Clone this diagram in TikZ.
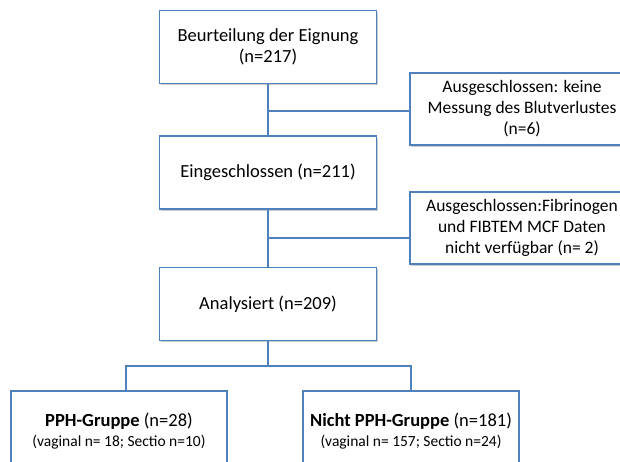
\documentclass[tikz,border=0pt]{standalone}
\usepackage{fontspec}
\setmainfont{Carlito}
\usetikzlibrary{positioning,shadows,calc}
\definecolor{office}{HTML}{4F81BD}
\definecolor{shade}{HTML}{9A9A9A}
\tikzset{
  box/.style={
    draw=office, fill=white, line width=1.3pt,
    align=center, font=\fontsize{18.5}{21.5}\selectfont,
    inner sep=0pt,
    drop shadow={shadow xshift=1.2pt, shadow yshift=-1.6pt, fill=shade, opacity=0.5}
  },
  link/.style={draw=office, line width=1.6pt}
}
\begin{document}
\begin{tikzpicture}[x=1pt, y=-1pt,
        stage/.style={box, minimum width=217pt, minimum height=73pt},
        excl/.style={box, minimum width=224pt, minimum height=72pt, font=\fontsize{17.5}{21}\selectfont},
        group/.style={box, minimum width=216pt, minimum height=80pt}
      ]
        \useasboundingbox (0,0) rectangle (620,462);
        \clip (0,0) rectangle (620,462);
        % main flow
        \node[stage] (b1) at (268,47) {Beurteilung der Eignung\\(n=217)};
        \node[stage] (b2) at (268,172.5) {Eingeschlossen (n=211)};
        \node[stage] (b3) at (268,304) {Analysiert (n=209)};
        % exclusions
        \node[excl] (ex1) at (522,109) {Ausgeschlossen: keine\\Messung des Blutverlustes\\(n=6)};
        \node[excl] (ex2) at (522,228) {Ausgeschlossen:Fibrinogen\\und FIBTEM MCF Daten\\nicht verfügbar (n= 2)};
        % groups
        \node[group] (g1) at (119,431) {\textbf{PPH-Gruppe} (n=28)\\[-2pt]{\fontsize{15.5}{18}\selectfont (vaginal n= 18; Sectio n=10)}};
        \node[group] (g2) at (411,431) {\textbf{Nicht PPH-Gruppe} (n=181)\\[-2pt]{\fontsize{15.5}{18}\selectfont (vaginal n= 157; Sectio n=24)}};
        \coordinate (e1) at ([yshift=-2pt]ex1.west);
        \coordinate (e2) at ([yshift=-10pt]ex2.west);
        \coordinate (split) at ($(b3.south)+(0,25)$);
        \draw[link] (b1.south) -- (b2.north);
        \draw[link] (b1.south |- e1) -- (e1);
        \draw[link] (b2.south) -- (b3.north);
        \draw[link] (b2.south |- e2) -- (e2);
        \draw[link] (b3.south) -- (split);
        \draw[link] ([xshift=7pt]g1.north) |- (split) -| (g2.north);
      \end{tikzpicture}
\end{document}
